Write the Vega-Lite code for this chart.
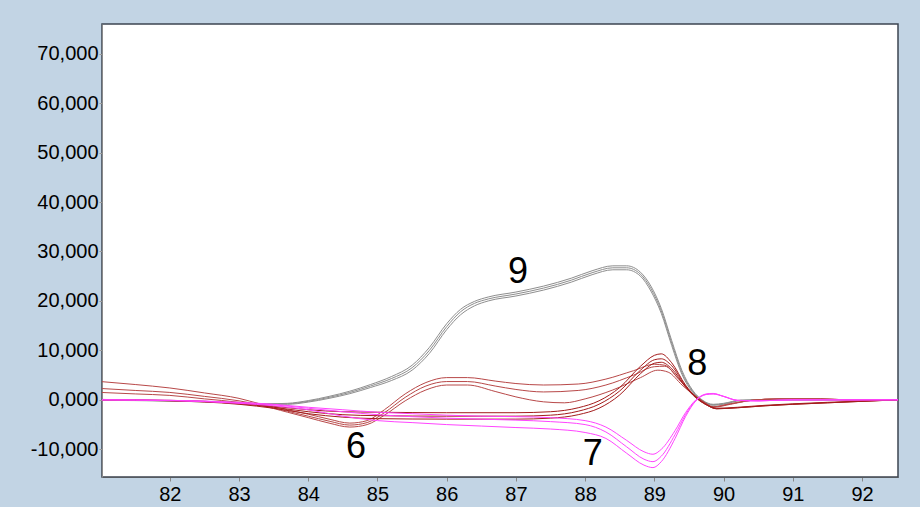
{
"$schema": "https://vega.github.io/schema/vega-lite/v6.json",
"width": 796, "height": 453,
"autosize": {"type": "none"},
"padding": {"left": 102, "top": 24, "right": 22, "bottom": 30},
"background": "#c2d4e4",
"config": {"view": {"fill": "white", "stroke": "#3c4450", "strokeWidth": 1.5}, "font": "Liberation Sans"},
"layer": [
{"data": {"values": [
{"s":"9a","g":"9","t":81.0,"v":100},{"s":"9a","g":"9","t":81.5,"v":-50},{"s":"9a","g":"9","t":82.0,"v":-150},{"s":"9a","g":"9","t":82.5,"v":-300},{"s":"9a","g":"9","t":83.0,"v":-550},{"s":"9a","g":"9","t":83.4,"v":-800},{"s":"9a","g":"9","t":83.7,"v":-700},{"s":"9a","g":"9","t":84.0,"v":-150},{"s":"9a","g":"9","t":84.3,"v":700},{"s":"9a","g":"9","t":84.6,"v":1750},{"s":"9a","g":"9","t":84.9,"v":3100},{"s":"9a","g":"9","t":85.2,"v":4700},{"s":"9a","g":"9","t":85.5,"v":7000},{"s":"9a","g":"9","t":85.75,"v":10600},{"s":"9a","g":"9","t":86.0,"v":15400},{"s":"9a","g":"9","t":86.2,"v":18300},{"s":"9a","g":"9","t":86.4,"v":19900},{"s":"9a","g":"9","t":86.6,"v":20800},{"s":"9a","g":"9","t":87.0,"v":21800},{"s":"9a","g":"9","t":87.4,"v":23000},{"s":"9a","g":"9","t":87.8,"v":24600},{"s":"9a","g":"9","t":88.1,"v":26100},{"s":"9a","g":"9","t":88.4,"v":27100},{"s":"9a","g":"9","t":88.6,"v":27100},{"s":"9a","g":"9","t":88.8,"v":25800},{"s":"9a","g":"9","t":88.95,"v":23000},{"s":"9a","g":"9","t":89.1,"v":18500},{"s":"9a","g":"9","t":89.25,"v":12000},{"s":"9a","g":"9","t":89.4,"v":5900},{"s":"9a","g":"9","t":89.55,"v":2000},{"s":"9a","g":"9","t":89.7,"v":-100},{"s":"9a","g":"9","t":89.85,"v":-900},{"s":"9a","g":"9","t":90.0,"v":-700},{"s":"9a","g":"9","t":90.25,"v":-50},{"s":"9a","g":"9","t":90.6,"v":0},{"s":"9a","g":"9","t":91.0,"v":0},{"s":"9a","g":"9","t":92.52,"v":0},
{"s":"9b","g":"9","t":81.0,"v":0},{"s":"9b","g":"9","t":81.5,"v":-100},{"s":"9b","g":"9","t":82.0,"v":-200},{"s":"9b","g":"9","t":82.5,"v":-350},{"s":"9b","g":"9","t":83.0,"v":-600},{"s":"9b","g":"9","t":83.4,"v":-850},{"s":"9b","g":"9","t":83.7,"v":-800},{"s":"9b","g":"9","t":84.0,"v":-300},{"s":"9b","g":"9","t":84.3,"v":500},{"s":"9b","g":"9","t":84.6,"v":1500},{"s":"9b","g":"9","t":84.9,"v":2800},{"s":"9b","g":"9","t":85.2,"v":4300},{"s":"9b","g":"9","t":85.5,"v":6500},{"s":"9b","g":"9","t":85.75,"v":10000},{"s":"9b","g":"9","t":86.0,"v":14800},{"s":"9b","g":"9","t":86.2,"v":17800},{"s":"9b","g":"9","t":86.4,"v":19500},{"s":"9b","g":"9","t":86.6,"v":20400},{"s":"9b","g":"9","t":87.0,"v":21400},{"s":"9b","g":"9","t":87.4,"v":22600},{"s":"9b","g":"9","t":87.8,"v":24200},{"s":"9b","g":"9","t":88.1,"v":25700},{"s":"9b","g":"9","t":88.4,"v":26700},{"s":"9b","g":"9","t":88.6,"v":26700},{"s":"9b","g":"9","t":88.8,"v":25400},{"s":"9b","g":"9","t":88.95,"v":22500},{"s":"9b","g":"9","t":89.1,"v":18000},{"s":"9b","g":"9","t":89.25,"v":11500},{"s":"9b","g":"9","t":89.4,"v":5500},{"s":"9b","g":"9","t":89.55,"v":1800},{"s":"9b","g":"9","t":89.7,"v":-200},{"s":"9b","g":"9","t":89.85,"v":-1000},{"s":"9b","g":"9","t":90.0,"v":-800},{"s":"9b","g":"9","t":90.25,"v":-100},{"s":"9b","g":"9","t":90.6,"v":0},{"s":"9b","g":"9","t":91.0,"v":0},{"s":"9b","g":"9","t":92.52,"v":0},
{"s":"9c","g":"9","t":81.0,"v":-100},{"s":"9c","g":"9","t":81.5,"v":-150},{"s":"9c","g":"9","t":82.0,"v":-250},{"s":"9c","g":"9","t":82.5,"v":-400},{"s":"9c","g":"9","t":83.0,"v":-650},{"s":"9c","g":"9","t":83.4,"v":-900},{"s":"9c","g":"9","t":83.7,"v":-900},{"s":"9c","g":"9","t":84.0,"v":-450},{"s":"9c","g":"9","t":84.3,"v":300},{"s":"9c","g":"9","t":84.6,"v":1250},{"s":"9c","g":"9","t":84.9,"v":2500},{"s":"9c","g":"9","t":85.2,"v":3900},{"s":"9c","g":"9","t":85.5,"v":6000},{"s":"9c","g":"9","t":85.75,"v":9400},{"s":"9c","g":"9","t":86.0,"v":14200},{"s":"9c","g":"9","t":86.2,"v":17200},{"s":"9c","g":"9","t":86.4,"v":19000},{"s":"9c","g":"9","t":86.6,"v":20000},{"s":"9c","g":"9","t":87.0,"v":21000},{"s":"9c","g":"9","t":87.4,"v":22200},{"s":"9c","g":"9","t":87.8,"v":23800},{"s":"9c","g":"9","t":88.1,"v":25300},{"s":"9c","g":"9","t":88.4,"v":26300},{"s":"9c","g":"9","t":88.6,"v":26300},{"s":"9c","g":"9","t":88.8,"v":25000},{"s":"9c","g":"9","t":88.95,"v":22000},{"s":"9c","g":"9","t":89.1,"v":17500},{"s":"9c","g":"9","t":89.25,"v":11000},{"s":"9c","g":"9","t":89.4,"v":5100},{"s":"9c","g":"9","t":89.55,"v":1600},{"s":"9c","g":"9","t":89.7,"v":-300},{"s":"9c","g":"9","t":89.85,"v":-1100},{"s":"9c","g":"9","t":90.0,"v":-900},{"s":"9c","g":"9","t":90.25,"v":-150},{"s":"9c","g":"9","t":90.6,"v":0},{"s":"9c","g":"9","t":91.0,"v":0},{"s":"9c","g":"9","t":92.52,"v":0},

{"s":"6a","g":"6","t":81.0,"v":3700},{"s":"6a","g":"6","t":81.5,"v":3100},{"s":"6a","g":"6","t":82.0,"v":2400},{"s":"6a","g":"6","t":82.5,"v":1400},{"s":"6a","g":"6","t":83.0,"v":300},{"s":"6a","g":"6","t":83.3,"v":-800},{"s":"6a","g":"6","t":83.7,"v":-2000},{"s":"6a","g":"6","t":84.0,"v":-2900},{"s":"6a","g":"6","t":84.3,"v":-3900},{"s":"6a","g":"6","t":84.6,"v":-4700},{"s":"6a","g":"6","t":84.85,"v":-4200},{"s":"6a","g":"6","t":85.1,"v":-2000},{"s":"6a","g":"6","t":85.4,"v":1200},{"s":"6a","g":"6","t":85.7,"v":3500},{"s":"6a","g":"6","t":86.0,"v":4500},{"s":"6a","g":"6","t":86.3,"v":4500},{"s":"6a","g":"6","t":86.7,"v":3800},{"s":"6a","g":"6","t":87.0,"v":3300},{"s":"6a","g":"6","t":87.4,"v":3000},{"s":"6a","g":"6","t":87.9,"v":3200},{"s":"6a","g":"6","t":88.3,"v":4200},{"s":"6a","g":"6","t":88.7,"v":5900},{"s":"6a","g":"6","t":89.0,"v":7200},{"s":"6a","g":"6","t":89.15,"v":7000},{"s":"6a","g":"6","t":89.35,"v":4200},{"s":"6a","g":"6","t":89.55,"v":1200},{"s":"6a","g":"6","t":89.7,"v":-400},{"s":"6a","g":"6","t":89.85,"v":-1500},{"s":"6a","g":"6","t":90.1,"v":-900},{"s":"6a","g":"6","t":90.4,"v":-100},{"s":"6a","g":"6","t":90.8,"v":200},{"s":"6a","g":"6","t":91.4,"v":200},{"s":"6a","g":"6","t":91.8,"v":0},{"s":"6a","g":"6","t":92.52,"v":0},
{"s":"6b","g":"6","t":81.0,"v":2300},{"s":"6b","g":"6","t":81.5,"v":1900},{"s":"6b","g":"6","t":82.0,"v":1500},{"s":"6b","g":"6","t":82.5,"v":700},{"s":"6b","g":"6","t":83.0,"v":-200},{"s":"6b","g":"6","t":83.3,"v":-1000},{"s":"6b","g":"6","t":83.7,"v":-2300},{"s":"6b","g":"6","t":84.0,"v":-3300},{"s":"6b","g":"6","t":84.3,"v":-4300},{"s":"6b","g":"6","t":84.6,"v":-5100},{"s":"6b","g":"6","t":84.85,"v":-4600},{"s":"6b","g":"6","t":85.1,"v":-2600},{"s":"6b","g":"6","t":85.4,"v":500},{"s":"6b","g":"6","t":85.7,"v":2800},{"s":"6b","g":"6","t":86.0,"v":3700},{"s":"6b","g":"6","t":86.3,"v":3700},{"s":"6b","g":"6","t":86.7,"v":2800},{"s":"6b","g":"6","t":87.0,"v":2100},{"s":"6b","g":"6","t":87.4,"v":1600},{"s":"6b","g":"6","t":87.9,"v":1900},{"s":"6b","g":"6","t":88.3,"v":3000},{"s":"6b","g":"6","t":88.7,"v":5000},{"s":"6b","g":"6","t":89.0,"v":6700},{"s":"6b","g":"6","t":89.15,"v":6800},{"s":"6b","g":"6","t":89.35,"v":4300},{"s":"6b","g":"6","t":89.55,"v":1300},{"s":"6b","g":"6","t":89.7,"v":-300},{"s":"6b","g":"6","t":89.85,"v":-1400},{"s":"6b","g":"6","t":90.1,"v":-800},{"s":"6b","g":"6","t":90.4,"v":-100},{"s":"6b","g":"6","t":90.8,"v":200},{"s":"6b","g":"6","t":91.4,"v":200},{"s":"6b","g":"6","t":91.8,"v":0},{"s":"6b","g":"6","t":92.52,"v":0},
{"s":"6c","g":"6","t":81.0,"v":1500},{"s":"6c","g":"6","t":81.5,"v":1200},{"s":"6c","g":"6","t":82.0,"v":900},{"s":"6c","g":"6","t":82.5,"v":200},{"s":"6c","g":"6","t":83.0,"v":-500},{"s":"6c","g":"6","t":83.3,"v":-1100},{"s":"6c","g":"6","t":83.7,"v":-2500},{"s":"6c","g":"6","t":84.0,"v":-3600},{"s":"6c","g":"6","t":84.3,"v":-4700},{"s":"6c","g":"6","t":84.6,"v":-5500},{"s":"6c","g":"6","t":84.85,"v":-5000},{"s":"6c","g":"6","t":85.1,"v":-3100},{"s":"6c","g":"6","t":85.4,"v":-200},{"s":"6c","g":"6","t":85.7,"v":2000},{"s":"6c","g":"6","t":86.0,"v":3000},{"s":"6c","g":"6","t":86.3,"v":3000},{"s":"6c","g":"6","t":86.7,"v":1700},{"s":"6c","g":"6","t":87.0,"v":600},{"s":"6c","g":"6","t":87.4,"v":-400},{"s":"6c","g":"6","t":87.7,"v":-600},{"s":"6c","g":"6","t":88.0,"v":200},{"s":"6c","g":"6","t":88.4,"v":2000},{"s":"6c","g":"6","t":88.8,"v":4500},{"s":"6c","g":"6","t":89.05,"v":6000},{"s":"6c","g":"6","t":89.2,"v":5600},{"s":"6c","g":"6","t":89.4,"v":3000},{"s":"6c","g":"6","t":89.55,"v":1200},{"s":"6c","g":"6","t":89.7,"v":-300},{"s":"6c","g":"6","t":89.85,"v":-1400},{"s":"6c","g":"6","t":90.1,"v":-800},{"s":"6c","g":"6","t":90.4,"v":-100},{"s":"6c","g":"6","t":90.8,"v":200},{"s":"6c","g":"6","t":91.4,"v":200},{"s":"6c","g":"6","t":91.8,"v":0},{"s":"6c","g":"6","t":92.52,"v":0},

{"s":"8a","g":"8","t":81.0,"v":0},{"s":"8a","g":"8","t":82.0,"v":-100},{"s":"8a","g":"8","t":83.0,"v":-700},{"s":"8a","g":"8","t":83.5,"v":-1300},{"s":"8a","g":"8","t":84.0,"v":-2000},{"s":"8a","g":"8","t":84.5,"v":-2400},{"s":"8a","g":"8","t":85.0,"v":-2500},{"s":"8a","g":"8","t":86.0,"v":-2600},{"s":"8a","g":"8","t":87.0,"v":-2600},{"s":"8a","g":"8","t":87.5,"v":-2400},{"s":"8a","g":"8","t":87.9,"v":-1600},{"s":"8a","g":"8","t":88.2,"v":-200},{"s":"8a","g":"8","t":88.5,"v":2500},{"s":"8a","g":"8","t":88.8,"v":6800},{"s":"8a","g":"8","t":89.0,"v":9000},{"s":"8a","g":"8","t":89.1,"v":9300},{"s":"8a","g":"8","t":89.25,"v":7500},{"s":"8a","g":"8","t":89.45,"v":3000},{"s":"8a","g":"8","t":89.6,"v":600},{"s":"8a","g":"8","t":89.75,"v":-900},{"s":"8a","g":"8","t":89.9,"v":-1700},{"s":"8a","g":"8","t":90.2,"v":-1500},{"s":"8a","g":"8","t":90.6,"v":-1100},{"s":"8a","g":"8","t":91.0,"v":-800},{"s":"8a","g":"8","t":91.5,"v":-500},{"s":"8a","g":"8","t":92.0,"v":-250},{"s":"8a","g":"8","t":92.52,"v":0},
{"s":"8b","g":"8","t":81.0,"v":0},{"s":"8b","g":"8","t":82.0,"v":-150},{"s":"8b","g":"8","t":83.0,"v":-800},{"s":"8b","g":"8","t":83.5,"v":-1500},{"s":"8b","g":"8","t":84.0,"v":-2400},{"s":"8b","g":"8","t":84.5,"v":-3000},{"s":"8b","g":"8","t":85.0,"v":-3200},{"s":"8b","g":"8","t":86.0,"v":-3300},{"s":"8b","g":"8","t":87.0,"v":-3300},{"s":"8b","g":"8","t":87.5,"v":-3100},{"s":"8b","g":"8","t":87.9,"v":-2300},{"s":"8b","g":"8","t":88.2,"v":-900},{"s":"8b","g":"8","t":88.5,"v":1800},{"s":"8b","g":"8","t":88.8,"v":6000},{"s":"8b","g":"8","t":89.0,"v":8100},{"s":"8b","g":"8","t":89.1,"v":8300},{"s":"8b","g":"8","t":89.25,"v":6900},{"s":"8b","g":"8","t":89.45,"v":2800},{"s":"8b","g":"8","t":89.6,"v":500},{"s":"8b","g":"8","t":89.75,"v":-1000},{"s":"8b","g":"8","t":89.9,"v":-1800},{"s":"8b","g":"8","t":90.2,"v":-1600},{"s":"8b","g":"8","t":90.6,"v":-1200},{"s":"8b","g":"8","t":91.0,"v":-900},{"s":"8b","g":"8","t":91.5,"v":-600},{"s":"8b","g":"8","t":92.0,"v":-300},{"s":"8b","g":"8","t":92.52,"v":0},
{"s":"8c","g":"8","t":81.0,"v":0},{"s":"8c","g":"8","t":82.0,"v":-200},{"s":"8c","g":"8","t":83.0,"v":-900},{"s":"8c","g":"8","t":83.5,"v":-1700},{"s":"8c","g":"8","t":84.0,"v":-2800},{"s":"8c","g":"8","t":84.5,"v":-3500},{"s":"8c","g":"8","t":85.0,"v":-3800},{"s":"8c","g":"8","t":86.0,"v":-3900},{"s":"8c","g":"8","t":87.0,"v":-3900},{"s":"8c","g":"8","t":87.5,"v":-3700},{"s":"8c","g":"8","t":87.9,"v":-3000},{"s":"8c","g":"8","t":88.2,"v":-1700},{"s":"8c","g":"8","t":88.5,"v":1000},{"s":"8c","g":"8","t":88.8,"v":5300},{"s":"8c","g":"8","t":89.0,"v":7400},{"s":"8c","g":"8","t":89.1,"v":7600},{"s":"8c","g":"8","t":89.25,"v":6300},{"s":"8c","g":"8","t":89.45,"v":2600},{"s":"8c","g":"8","t":89.6,"v":400},{"s":"8c","g":"8","t":89.75,"v":-1000},{"s":"8c","g":"8","t":89.9,"v":-1800},{"s":"8c","g":"8","t":90.2,"v":-1600},{"s":"8c","g":"8","t":90.6,"v":-1200},{"s":"8c","g":"8","t":91.0,"v":-900},{"s":"8c","g":"8","t":91.5,"v":-600},{"s":"8c","g":"8","t":92.0,"v":-300},{"s":"8c","g":"8","t":92.52,"v":0},

{"s":"7a","g":"7","t":81.0,"v":0},{"s":"7a","g":"7","t":82.0,"v":-100},{"s":"7a","g":"7","t":83.0,"v":-500},{"s":"7a","g":"7","t":83.5,"v":-900},{"s":"7a","g":"7","t":84.0,"v":-1500},{"s":"7a","g":"7","t":84.5,"v":-2000},{"s":"7a","g":"7","t":85.0,"v":-2500},{"s":"7a","g":"7","t":85.5,"v":-2800},{"s":"7a","g":"7","t":86.0,"v":-3100},{"s":"7a","g":"7","t":86.5,"v":-3300},{"s":"7a","g":"7","t":87.0,"v":-3400},{"s":"7a","g":"7","t":87.5,"v":-3600},{"s":"7a","g":"7","t":88.0,"v":-4200},{"s":"7a","g":"7","t":88.3,"v":-5500},{"s":"7a","g":"7","t":88.6,"v":-8200},{"s":"7a","g":"7","t":88.85,"v":-10500},{"s":"7a","g":"7","t":88.98,"v":-11000},{"s":"7a","g":"7","t":89.1,"v":-10000},{"s":"7a","g":"7","t":89.3,"v":-6200},{"s":"7a","g":"7","t":89.45,"v":-2600},{"s":"7a","g":"7","t":89.6,"v":0},{"s":"7a","g":"7","t":89.75,"v":1200},{"s":"7a","g":"7","t":89.85,"v":1300},{"s":"7a","g":"7","t":90.0,"v":700},{"s":"7a","g":"7","t":90.2,"v":-100},{"s":"7a","g":"7","t":90.5,"v":-200},{"s":"7a","g":"7","t":91.0,"v":0},{"s":"7a","g":"7","t":92.52,"v":0},
{"s":"7b","g":"7","t":81.0,"v":0},{"s":"7b","g":"7","t":82.0,"v":-100},{"s":"7b","g":"7","t":83.0,"v":-600},{"s":"7b","g":"7","t":83.5,"v":-1000},{"s":"7b","g":"7","t":84.0,"v":-1700},{"s":"7b","g":"7","t":84.5,"v":-2400},{"s":"7b","g":"7","t":85.0,"v":-3000},{"s":"7b","g":"7","t":85.5,"v":-3400},{"s":"7b","g":"7","t":86.0,"v":-3700},{"s":"7b","g":"7","t":86.5,"v":-3900},{"s":"7b","g":"7","t":87.0,"v":-4100},{"s":"7b","g":"7","t":87.5,"v":-4400},{"s":"7b","g":"7","t":88.0,"v":-5000},{"s":"7b","g":"7","t":88.3,"v":-6500},{"s":"7b","g":"7","t":88.6,"v":-9500},{"s":"7b","g":"7","t":88.85,"v":-12000},{"s":"7b","g":"7","t":88.98,"v":-12500},{"s":"7b","g":"7","t":89.1,"v":-11400},{"s":"7b","g":"7","t":89.3,"v":-7000},{"s":"7b","g":"7","t":89.45,"v":-3000},{"s":"7b","g":"7","t":89.6,"v":-100},{"s":"7b","g":"7","t":89.75,"v":1100},{"s":"7b","g":"7","t":89.85,"v":1200},{"s":"7b","g":"7","t":90.0,"v":700},{"s":"7b","g":"7","t":90.2,"v":-100},{"s":"7b","g":"7","t":90.5,"v":-200},{"s":"7b","g":"7","t":91.0,"v":0},{"s":"7b","g":"7","t":92.52,"v":0},
{"s":"7c","g":"7","t":81.0,"v":0},{"s":"7c","g":"7","t":82.0,"v":-150},{"s":"7c","g":"7","t":83.0,"v":-700},{"s":"7c","g":"7","t":83.5,"v":-1200},{"s":"7c","g":"7","t":84.0,"v":-2000},{"s":"7c","g":"7","t":84.5,"v":-3300},{"s":"7c","g":"7","t":85.0,"v":-4200},{"s":"7c","g":"7","t":85.5,"v":-4600},{"s":"7c","g":"7","t":86.0,"v":-5000},{"s":"7c","g":"7","t":86.5,"v":-5300},{"s":"7c","g":"7","t":87.0,"v":-5600},{"s":"7c","g":"7","t":87.5,"v":-5900},{"s":"7c","g":"7","t":88.0,"v":-6600},{"s":"7c","g":"7","t":88.3,"v":-7800},{"s":"7c","g":"7","t":88.6,"v":-10800},{"s":"7c","g":"7","t":88.85,"v":-13200},{"s":"7c","g":"7","t":88.98,"v":-13700},{"s":"7c","g":"7","t":89.1,"v":-12500},{"s":"7c","g":"7","t":89.3,"v":-7800},{"s":"7c","g":"7","t":89.45,"v":-3400},{"s":"7c","g":"7","t":89.6,"v":-200},{"s":"7c","g":"7","t":89.75,"v":1100},{"s":"7c","g":"7","t":89.85,"v":1200},{"s":"7c","g":"7","t":90.0,"v":700},{"s":"7c","g":"7","t":90.2,"v":-100},{"s":"7c","g":"7","t":90.5,"v":-200},{"s":"7c","g":"7","t":91.0,"v":0},{"s":"7c","g":"7","t":92.52,"v":0}
]},
"mark": {"type": "line", "strokeWidth": 1, "interpolate": "monotone", "clip": true},
"encoding": {
"x": {"field": "t", "type": "quantitative", "scale": {"domain": [81.02, 92.52], "nice": false, "zero": false},
 "axis": {"title": null, "values": [82,83,84,85,86,87,88,89,90,91,92], "grid": false, "tickSize": 4, "tickColor": "#888888", "domainColor": "#555a60", "labelFontSize": 20, "labelFont": "Liberation Sans", "labelColor": "black", "labelPadding": 3, "format": "d", "labelOverlap": false}},
"y": {"field": "v", "type": "quantitative", "scale": {"domain": [-15600, 76000], "nice": false, "zero": false},
 "axis": {"title": null, "values": [-10000,-5000,0,5000,10000,15000,20000,25000,30000,35000,40000,45000,50000,55000,60000,65000,70000], "grid": false, "tickSize": 3, "tickColor": "#999999", "domainColor": "#8a8a8a", "labelFontSize": 20, "labelFont": "Liberation Sans", "labelColor": "black", "labelPadding": 1, "labelOverlap": false, "labelExpr": "datum.value % 10000 != 0 ? '' : (datum.value == 0 ? '0,000' : (datum.value < 0 ? '-' : '') + format(abs(datum.value), ','))"}},
"color": {"field": "g", "type": "nominal", "scale": {"domain": ["9","6","8","7"], "range": ["#8e8e8e","#b84848","#a41c1c","#ff44ff"]}, "legend": null},
"detail": {"field": "s"}
}},
{"data": {"values": [
{"label":"9","t":87.03,"v":25800},
{"label":"8","t":89.62,"v":7150},
{"label":"6","t":84.69,"v":-9450},
{"label":"7","t":88.11,"v":-10870}
]},
"mark": {"type": "text", "fontSize": 36, "font": "Liberation Sans", "color": "black", "baseline": "middle", "align": "center"},
"encoding": {
"x": {"field": "t", "type": "quantitative"},
"y": {"field": "v", "type": "quantitative"},
"text": {"field": "label"}
}}
]
}
